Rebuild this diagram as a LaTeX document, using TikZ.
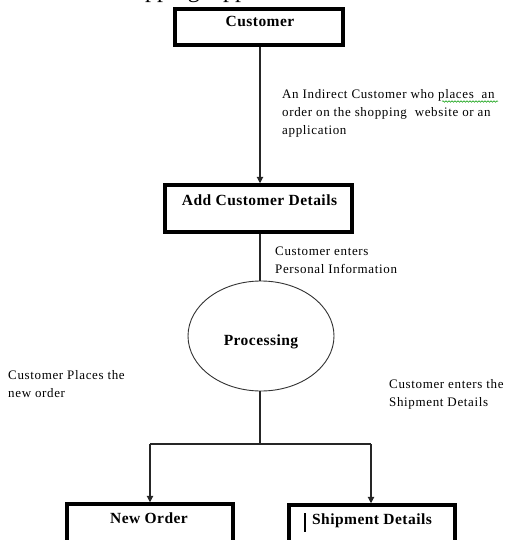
\documentclass[tikz,border=0pt]{standalone}
\usepackage{fontspec}
\setmainfont{Liberation Serif}
\usetikzlibrary{arrows.meta,shapes.geometric,decorations.pathmorphing}

\tikzset{
  stepbox/.style={draw=black, line width=3.5pt, fill=white, inner sep=0pt},
  boxlabel/.style={inner sep=0pt, anchor=base,
    font=\fontsize{15.5}{18}\selectfont\bfseries\addfontfeatures{LetterSpace=3}},
  % multi-line notes are placed by the baseline of their last line
  note/.style={inner sep=0pt, anchor=base west, align=left,
    font=\fontsize{13}{18}\selectfont\addfontfeatures{LetterSpace=5}},
  flow/.style={draw=black!85, line width=1.1pt},
  flowarrow/.style={flow, -{Triangle[length=6.5pt,width=6.5pt]}},
}

\begin{document}
\begin{tikzpicture}[x=1pt,y=-1pt]
  \useasboundingbox (0,0) rectangle (505,540);
  \clip (0,0) rectangle (505,540);

  % heading line running off the top edge
  \node[inner sep=0pt, anchor=base west, font=\fontsize{24}{28}\selectfont]
    (heading) at (145,-2) {\llap{Sho}pping Application};

  % process boxes
  \node[stepbox, minimum width=168pt, minimum height=36pt] (customer) at (259,27) {};
  \node[boxlabel] (customerT) at (260,27) {Customer};

  \node[stepbox, minimum width=187pt, minimum height=47pt] (details) at (258.5,208.5) {};
  \node[boxlabel] (detailsT) at (259.5,205) {Add Customer Details};

  \node[ellipse, draw=black!80, line width=0.9pt, minimum width=146pt, minimum height=110pt,
        inner sep=0pt] (proc) at (261,336) {};
  \node[boxlabel] (procT) at (261,345) {Processing};

  \node[stepbox, minimum width=166pt, minimum height=56pt] (neworder) at (150,532) {};
  \node[boxlabel] (neworderT) at (149,523) {New Order};

  \node[stepbox, minimum width=166pt, minimum height=56pt] (shipment) at (372,533) {};
  \node[boxlabel] (shipmentT) at (372,524) {Shipment Details};
  % text cursor in front of the label
  \draw[line width=2pt] (305,513) -- (305,532);

  % connectors
  \coordinate (split) at (260,444);
  \coordinate (splitL) at (150,444);
  \coordinate (splitR) at (371,444);
  \draw[flowarrow] (260,0 |- customer.south) -- (260,0 |- details.north);
  \draw[flow] (260,0 |- details.south) -- (260,0 |- proc.north);
  \draw[flow] (260,0 |- proc.south) -- (split);
  \draw[flow] (splitL) -- (splitR);
  \draw[flowarrow] (splitL) -- (splitL |- neworder.north);
  \draw[flowarrow] (splitR) -- (splitR |- shipment.north);

  % annotations
  \node[note] (n1) at (282,135) {An Indirect Customer who places\ \ an\\order on the shopping\ \ website or an\\application};
  \draw[green!60!black, line width=0.5pt, decorate,
        decoration={snake, amplitude=0.8pt, segment length=3pt}] (442,101.5) -- (498,101.5);
  \node[note] (n2) at (275,273) {Customer enters\\Personal Information};
  \node[note] (n3) at (8,397) {Customer Places the\\new order};
  \node[note] (n4) at (389,406) {Customer enters the\\Shipment Details};
\end{tikzpicture}
\end{document}
